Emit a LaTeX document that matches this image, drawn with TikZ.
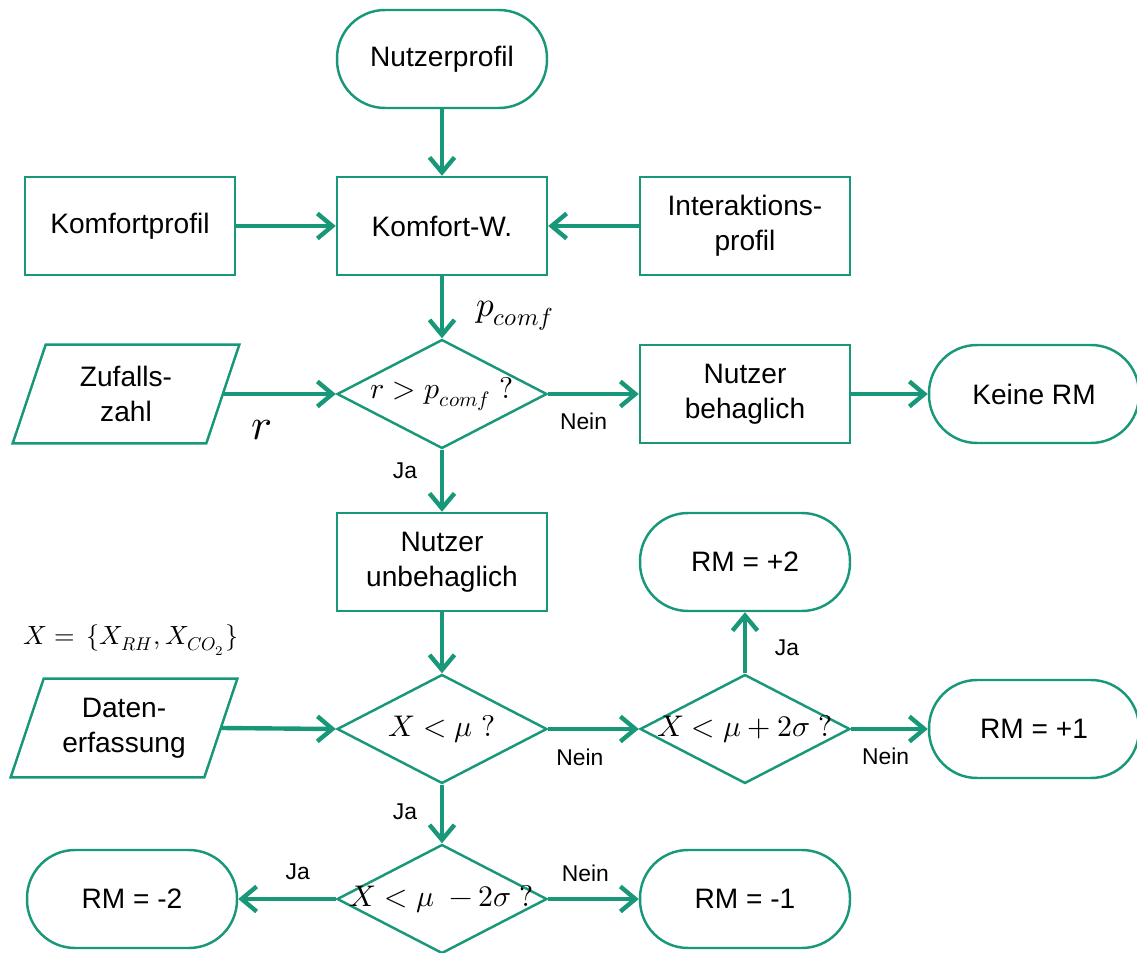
\documentclass[tikz,border=0pt]{standalone}
\usepackage{unicode-math}
\setmainfont{Liberation Sans}
\setmathfont{Latin Modern Math}
\usetikzlibrary{arrows.meta,shapes.geometric}
\definecolor{flow}{RGB}{24,152,121}
\tikzset{
  base/.style={draw=flow, line width=1.4pt, fill=white, align=center,
    font=\fontsize{16}{20}\selectfont, inner sep=2pt},
  proc/.style={base, rectangle, minimum width=4.2cm, minimum height=1.96cm},
  term/.style={base, rectangle, rounded corners=0.96cm, minimum width=4.2cm, minimum height=1.96cm},
  % input box: text node whose parallelogram outline is drawn afterwards
  io/.style={align=center, font=\fontsize{16}{20}\selectfont, inner sep=2pt,
    minimum width=3.86cm, minimum height=1.96cm},
  frame/.style={draw=flow, line width=1.4pt, line join=miter},
  decide/.style={base, diamond, minimum width=4.2cm, minimum height=2.18cm, inner sep=0pt},
  dtext/.style={font=\fontsize{17}{20}\selectfont},
  link/.style={draw=flow, line width=2.5pt, -{Straight Barb[length=3mm,width=5mm]}},
  lbl/.style={font=\fontsize{13}{15}\selectfont, inner sep=0pt},
  mathtxt/.style={inner sep=0pt},
}
\newcommand{\slantbox}[1]{%
  \draw[frame] ([xshift=-0.33cm]#1.south west) -- ([xshift=-0.33cm]#1.south east)
    -- ([xshift=0.33cm]#1.north east) -- ([xshift=0.33cm]#1.north west) -- cycle;}
\begin{document}
\begin{tikzpicture}[x=0.02cm, y=-0.02cm]
  \useasboundingbox (0,0) rectangle (1137,953);

  % top: profiles feeding the comfort probability
  \node[term] (user) at (442,59) {Nutzerprofil};
  \node[proc] (kprof) at (130,226) {Komfortprofil};
  \node[proc] (kw) at (442,226) {Komfort-W.};
  \node[proc] (iprof) at (745,226) {Interaktions-\\profil};

  % random comparison
  \node[io] (rand) at (126,394) {Zufalls-\\zahl};
  \slantbox{rand}
  \node[decide, label={[dtext]center:$r > p_{comf}\ ?$}] (d1) at (442,394) {};
  \node[proc] (ok) at (745,394) {Nutzer\\behaglich};
  \node[term] (none) at (1034,394) {Keine RM};

  % discomfort branch
  \node[proc] (notok) at (442,562) {Nutzer\\unbehaglich};
  \node[term] (rmp2) at (745,562) {RM = +2};
  \node[io] (data) at (124,728) {Daten-\\erfassung};
  \slantbox{data}
  \node[decide, label={[dtext]center:$X < \mu\ ?$}] (d2) at (442,729) {};
  \node[decide, label={[dtext]center:$X < \mu + 2\sigma\ ?$}] (d3) at (745,729) {};
  \node[term] (rmp1) at (1034,729) {RM = +1};
  \node[decide, label={[dtext]center:$X < \mu \;- 2\sigma\ ?$}] (d4) at (442,899) {};
  \node[term] (rmm2) at (132,899) {RM = -2};
  \node[term] (rmm1) at (745,899) {RM = -1};

  % free annotations
  \node[mathtxt, font=\fontsize{20}{24}\selectfont] (pc) at (515,316) {$p_{comf}$};
  \node[mathtxt, font=\fontsize{25}{28}\selectfont] (rr) at (262,430) {$r$};
  \node[mathtxt, font=\fontsize{15}{18}\selectfont] (xset) at (131,640) {$X = \,\{X_{RH}, X_{CO_2}\}$};

  % connectors
  \draw[link] (user) -- (kw);
  \draw[link] (kprof) -- (kw);
  \draw[link] (iprof) -- (kw);
  \draw[link] (kw) -- (d1);
  \draw[link] (rand.east) -- (d1.west);
  \draw[link] (d1.east) -- node[lbl, pos=0.39, yshift=-0.54cm] {Nein} (ok.west);
  \draw[link] (ok) -- (none);
  \draw[link] (d1.south) -- node[lbl, pos=0.34, xshift=-0.74cm] {Ja} (notok.north);
  \draw[link] (notok.south) -- (d2.north);
  \draw[link] (data.east) -- (d2.west);
  \draw[link] (d2.east) -- node[lbl, pos=0.35, yshift=-0.56cm] {Nein} (d3.west);
  \draw[link] (d3.north) -- node[lbl, pos=0.42, xshift=0.84cm] {Ja} (rmp2.south);
  \draw[link] (d3.east) -- node[lbl, pos=0.45, yshift=-0.54cm] {Nein} (rmp1.west);
  \draw[link] (d2.south) -- node[lbl, pos=0.46, xshift=-0.74cm] {Ja} (d4.north);
  \draw[link] (d4.west) -- node[lbl, pos=0.39, yshift=0.54cm] {Ja} (rmm2.east);
  \draw[link] (d4.east) -- node[lbl, pos=0.41, yshift=0.52cm] {Nein} (rmm1.west);
\end{tikzpicture}
\end{document}
